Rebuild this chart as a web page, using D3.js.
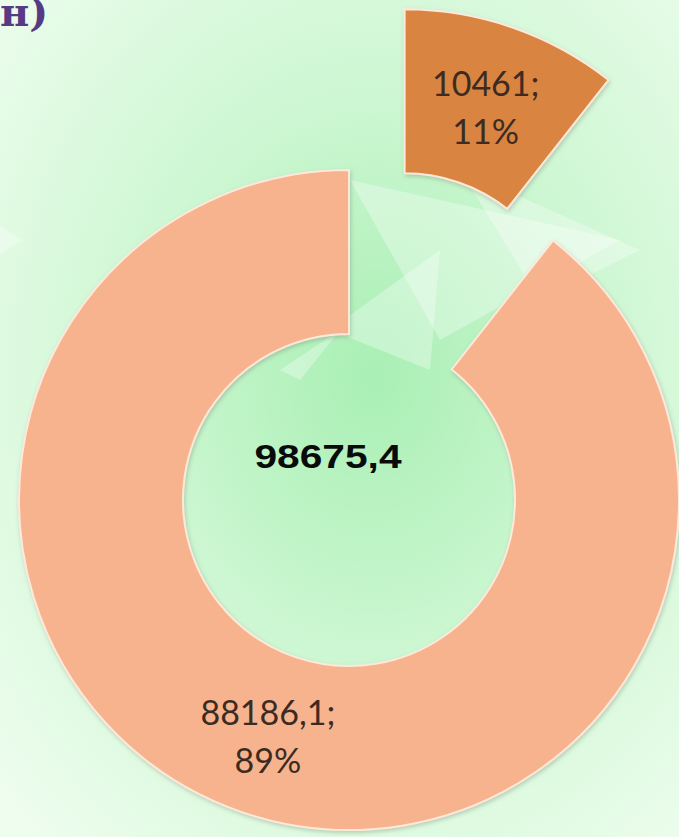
<!DOCTYPE html>
<html>
<head>
<meta charset="utf-8">
<script src="https://cdn.jsdelivr.net/npm/d3@7"></script>
<style>
  html, body { margin: 0; padding: 0; background: #e6fbe6; }
  svg { display: block; }
</style>
</head>
<body>
<div id="chart"></div>
<script>
'use strict';

// values
var categories = ['small', 'large'];
var values = [10461, 88186.1];
var valueLabels = ['10461;', '88186,1;'];
var percentLabels = ['11%', '89%'];
var totalLabel = '98675,4';
var panelLabel = 'н)';

var width = 679, height = 837;
var cx = 349, cy = 500;
var outerR = 330, innerR = 166;
var explode = [170, 0];
var colors = ['#d9843f', '#f7b38d'];

var svg = d3.select('#chart').append('svg')
  .attr('width', width)
  .attr('height', height);

var defs = svg.append('defs');

// Background: pale green with a brighter centre
var bg = defs.append('radialGradient')
  .attr('id', 'bg')
  .attr('cx', 0.55).attr('cy', 0.45).attr('r', 0.75);
bg.append('stop').attr('offset', '0%').attr('stop-color', '#a9efb4');
bg.append('stop').attr('offset', '45%').attr('stop-color', '#cdf7d2');
bg.append('stop').attr('offset', '100%').attr('stop-color', '#effdef');

var shadow = defs.append('filter').attr('id', 'shadow')
  .attr('x', '-10%').attr('y', '-10%').attr('width', '120%').attr('height', '120%');
shadow.append('feDropShadow')
  .attr('dx', 1).attr('dy', 2).attr('stdDeviation', 2)
  .attr('flood-color', '#6a7a60').attr('flood-opacity', 0.35);

svg.append('rect')
  .attr('width', width).attr('height', height)
  .attr('fill', 'url(#bg)');

// faint white facets behind the chart
var facets = [
  [[350, 180], [620, 240], [440, 340]],
  [[330, 330], [440, 250], [430, 370]],
  [[460, 170], [640, 250], [540, 300]],
  [[0, 225], [22, 240], [0, 255]],
  [[280, 370], [340, 330], [300, 380]]
];
svg.append('g').selectAll('polygon')
  .data(facets)
  .enter().append('polygon')
  .attr('points', function(d) { return d.map(function(p) { return p.join(','); }).join(' '); })
  .attr('fill', '#ffffff')
  .attr('opacity', 0.32);

// panel letter, cut by the top edge
svg.append('text')
  .text(panelLabel)
  .attr('x', 0)
  .attr('y', 26)
  .attr('font-family', '"DejaVu Serif", serif')
  .attr('font-weight', 'bold')
  .attr('font-size', 40)
  .attr('fill', '#563a84');

var pie = d3.pie().sort(null).value(function(d) { return d; });
var arcs = pie(values);

var arc = d3.arc().innerRadius(innerR).outerRadius(outerR);

function offset(d, i) {
  var mid = (d.startAngle + d.endAngle) / 2;
  return [Math.sin(mid) * explode[i], -Math.cos(mid) * explode[i]];
}

var g = svg.append('g').attr('transform', 'translate(' + cx + ',' + cy + ')');

var slice = g.selectAll('g.slice')
  .data(arcs)
  .enter().append('g')
  .attr('class', function(d, i) { return 'slice ' + categories[i]; })
  .attr('transform', function(d, i) {
    var o = offset(d, i);
    return 'translate(' + o[0] + ',' + o[1] + ')';
  });

slice.append('path')
  .attr('d', arc)
  .attr('fill', function(d, i) { return colors[i]; })
  .attr('stroke', '#fde9dc')
  .attr('stroke-width', 2)
  .attr('filter', 'url(#shadow)');

var label = slice.append('text')
  .attr('text-anchor', 'middle')
  .attr('font-family', 'Lato, "Open Sans", sans-serif')
  .attr('font-size', 34)
  .attr('fill', '#3b2b22')
  .attr('transform', function(d) {
    var c = arc.centroid(d);
    return 'translate(' + c[0] + ',' + c[1] + ')';
  });

label.append('tspan')
  .attr('x', 0)
  .attr('y', -9)
  .text(function(d, i) { return valueLabels[i]; });

label.append('tspan')
  .attr('x', 0)
  .attr('y', 39)
  .text(function(d, i) { return percentLabels[i]; });

// total in the hole
g.append('text')
  .text(totalLabel)
  .attr('x', -21)
  .attr('y', -32)
  .attr('text-anchor', 'middle')
  .attr('font-family', '"Liberation Sans", Arial, sans-serif')
  .attr('font-weight', 'bold')
  .attr('font-size', 34)
  .attr('textLength', 147)
  .attr('lengthAdjust', 'spacingAndGlyphs')
  .attr('fill', '#0a0a0a');
</script>
</body>
</html>
